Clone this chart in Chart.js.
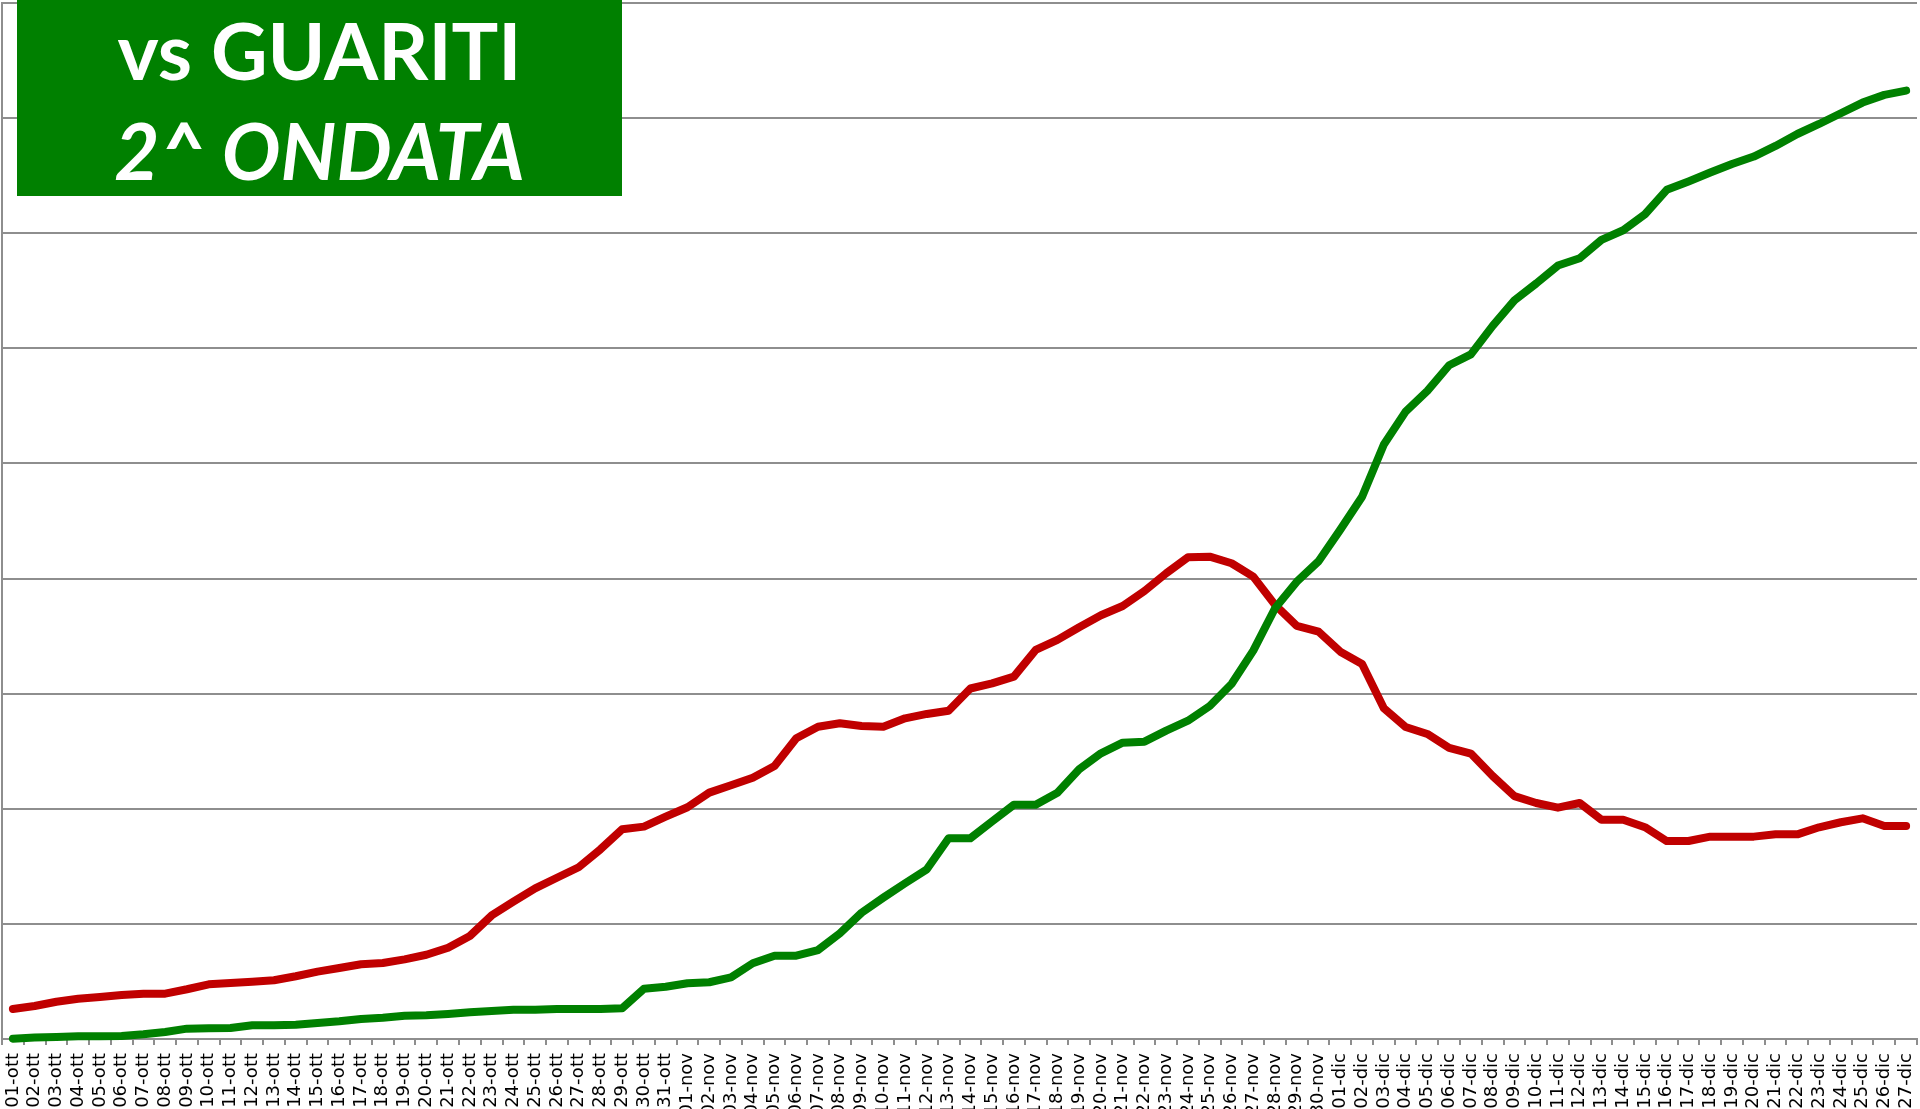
<!DOCTYPE html>
<html>
<head>
<meta charset="utf-8">
<script src="https://cdn.jsdelivr.net/npm/chart.js@4/dist/chart.umd.min.js"></script>
<style>
  html, body { margin: 0; padding: 0; background: #ffffff; }
  #wrap { position: relative; width: 1920px; height: 1109px; overflow: hidden; }
  #c { position: absolute; left: 0; top: 0; }
  #titlebox {
    position: absolute; left: 17px; top: 0; width: 605px; height: 196px;
    background: #008000; color: #ffffff; text-align: center;
    font-family: Lato, "Open Sans", sans-serif; font-weight: 700; font-size: 78px; line-height: 100px;
  }
  #titlebox .l2 { font-style: italic; }
</style>
</head>
<body>
<div id="wrap">
  <canvas id="c" width="1920" height="1109"></canvas>
  <div id="titlebox"><div class="l1">vs GUARITI</div><div class="l2">2^ ONDATA</div></div>
</div>
<script>
// Categories (dates)
const labels = [
  "01-ott","02-ott","03-ott","04-ott","05-ott","06-ott","07-ott","08-ott","09-ott","10-ott",
  "11-ott","12-ott","13-ott","14-ott","15-ott","16-ott","17-ott","18-ott","19-ott","20-ott",
  "21-ott","22-ott","23-ott","24-ott","25-ott","26-ott","27-ott","28-ott","29-ott","30-ott","31-ott",
  "01-nov","02-nov","03-nov","04-nov","05-nov","06-nov","07-nov","08-nov","09-nov","10-nov",
  "11-nov","12-nov","13-nov","14-nov","15-nov","16-nov","17-nov","18-nov","19-nov","20-nov",
  "21-nov","22-nov","23-nov","24-nov","25-nov","26-nov","27-nov","28-nov","29-nov","30-nov",
  "01-dic","02-dic","03-dic","04-dic","05-dic","06-dic","07-dic","08-dic","09-dic","10-dic",
  "11-dic","12-dic","13-dic","14-dic","15-dic","16-dic","17-dic","18-dic","19-dic","20-dic",
  "21-dic","22-dic","23-dic","24-dic","25-dic","26-dic","27-dic"
];

// Red series (100 = one gridline)
const positivi = [
  26.1, 28.7, 32.4, 35.0, 36.5, 38.2, 39.4, 39.4, 43.2, 47.5,
  48.7, 49.8, 51.0, 54.5, 58.5, 61.7, 64.9, 66.0, 69.2, 73.2,
  79.3, 89.5, 107.3, 119.3, 130.9, 140.1, 149.2, 164.8, 182.2, 184.5, 193.1,
  201.3, 214.0, 220.4, 227.0, 237.2, 261.2, 271.3, 274.3, 271.9, 271.3,
  278.6, 282.4, 285.2, 304.5, 309.0, 314.8, 338.0, 346.7, 357.7, 368.1,
  376.2, 389.2, 404.6, 418.5, 419.0, 413.3, 401.7, 377.1, 358.8, 353.9,
  336.5, 325.8, 287.3, 271.0, 265.0, 253.0, 248.0, 228.5, 211.0, 205.0,
  201.0, 205.0, 190.5, 190.5, 184.0, 172.0, 172.0, 175.8, 175.8, 175.8,
  177.8, 177.8, 183.9, 188.3, 191.7, 185.1, 185.1
];

// Green series
const guariti = [
  0.3, 1.2, 1.7, 2.3, 2.3, 2.6, 4.1, 6.1, 9.0, 9.3,
  9.6, 11.9, 11.9, 12.4, 13.9, 15.4, 17.4, 18.5, 20.2, 20.6,
  21.7, 23.2, 24.4, 25.5, 25.5, 26.1, 26.1, 26.1, 26.7, 43.7, 45.4,
  48.4, 49.3, 53.6, 65.8, 72.4, 72.4, 77.3, 91.8, 109.7, 122.8,
  135.3, 147.4, 174.4, 174.4, 189.0, 203.5, 203.5, 214.0, 234.3, 248.2,
  257.4, 258.3, 267.9, 276.5, 289.3, 308.4, 337.4, 374.2, 397.3, 415.0,
  442.5, 471.0, 516.5, 545.0, 563.0, 585.3, 594.8, 619.5, 641.6, 656.3,
  671.9, 678.2, 694.2, 702.6, 716.5, 737.7, 745.0, 752.7, 760.2, 766.6,
  775.8, 786.2, 794.9, 804.2, 813.5, 820.2, 823.9
];

// Value axis ticks (gridlines)
const yTicks = [0, 100, 200, 300, 400, 500, 600, 700, 800, 900];

const gridColor = "#8e8e8e";

new Chart(document.getElementById("c"), {
  type: "line",
  data: {
    labels: labels,
    datasets: [
      {
        label: "Positivi",
        data: positivi,
        borderColor: "#C00000",
        backgroundColor: "#C00000",
        borderWidth: 8,
        pointRadius: 0,
        tension: 0,
        borderCapStyle: "round",
        borderJoinStyle: "round",
        clip: false,
        order: 1
      },
      {
        label: "Guariti",
        data: guariti,
        borderColor: "#008000",
        backgroundColor: "#008000",
        borderWidth: 8,
        pointRadius: 0,
        tension: 0,
        borderCapStyle: "round",
        borderJoinStyle: "round",
        clip: false,
        order: 0
      }
    ]
  },
  options: {
    responsive: false,
    animation: false,
    devicePixelRatio: 1,
    layout: { padding: { top: 3, left: 2, right: 3, bottom: 0 } },
    plugins: {
      legend: { display: false },
      title: { display: false },
      tooltip: { enabled: false }
    },
    scales: {
      x: {
        type: "category",
        offset: true,
        grid: {
          offset: true,
          drawOnChartArea: false,
          drawTicks: true,
          tickLength: 6,
          color: gridColor,
          lineWidth: 2
        },
        border: { display: true, color: gridColor, width: 2 },
        ticks: {
          autoSkip: false,
          maxRotation: 90,
          minRotation: 90,
          padding: 8,
          color: "#000000",
          font: { family: "DejaVu Sans", size: 18 }
        },
        afterFit: function (scale) {
          scale.height = 70;
          scale.paddingLeft = 0;
          scale.paddingRight = 0;
        }
      },
      y: {
        min: 0,
        max: 900,
        afterBuildTicks: function (scale) { scale.ticks = yTicks.map(v => ({ value: v })); },
        ticks: { display: false, stepSize: 100 },
        grid: { color: gridColor, lineWidth: 2, drawTicks: false },
        border: { display: true, color: gridColor, width: 2 },
        afterFit: function (scale) {
          scale.width = 0;
          scale.paddingTop = 0;
          scale.paddingBottom = 0;
        }
      }
    }
  }
});
</script>
</body>
</html>
